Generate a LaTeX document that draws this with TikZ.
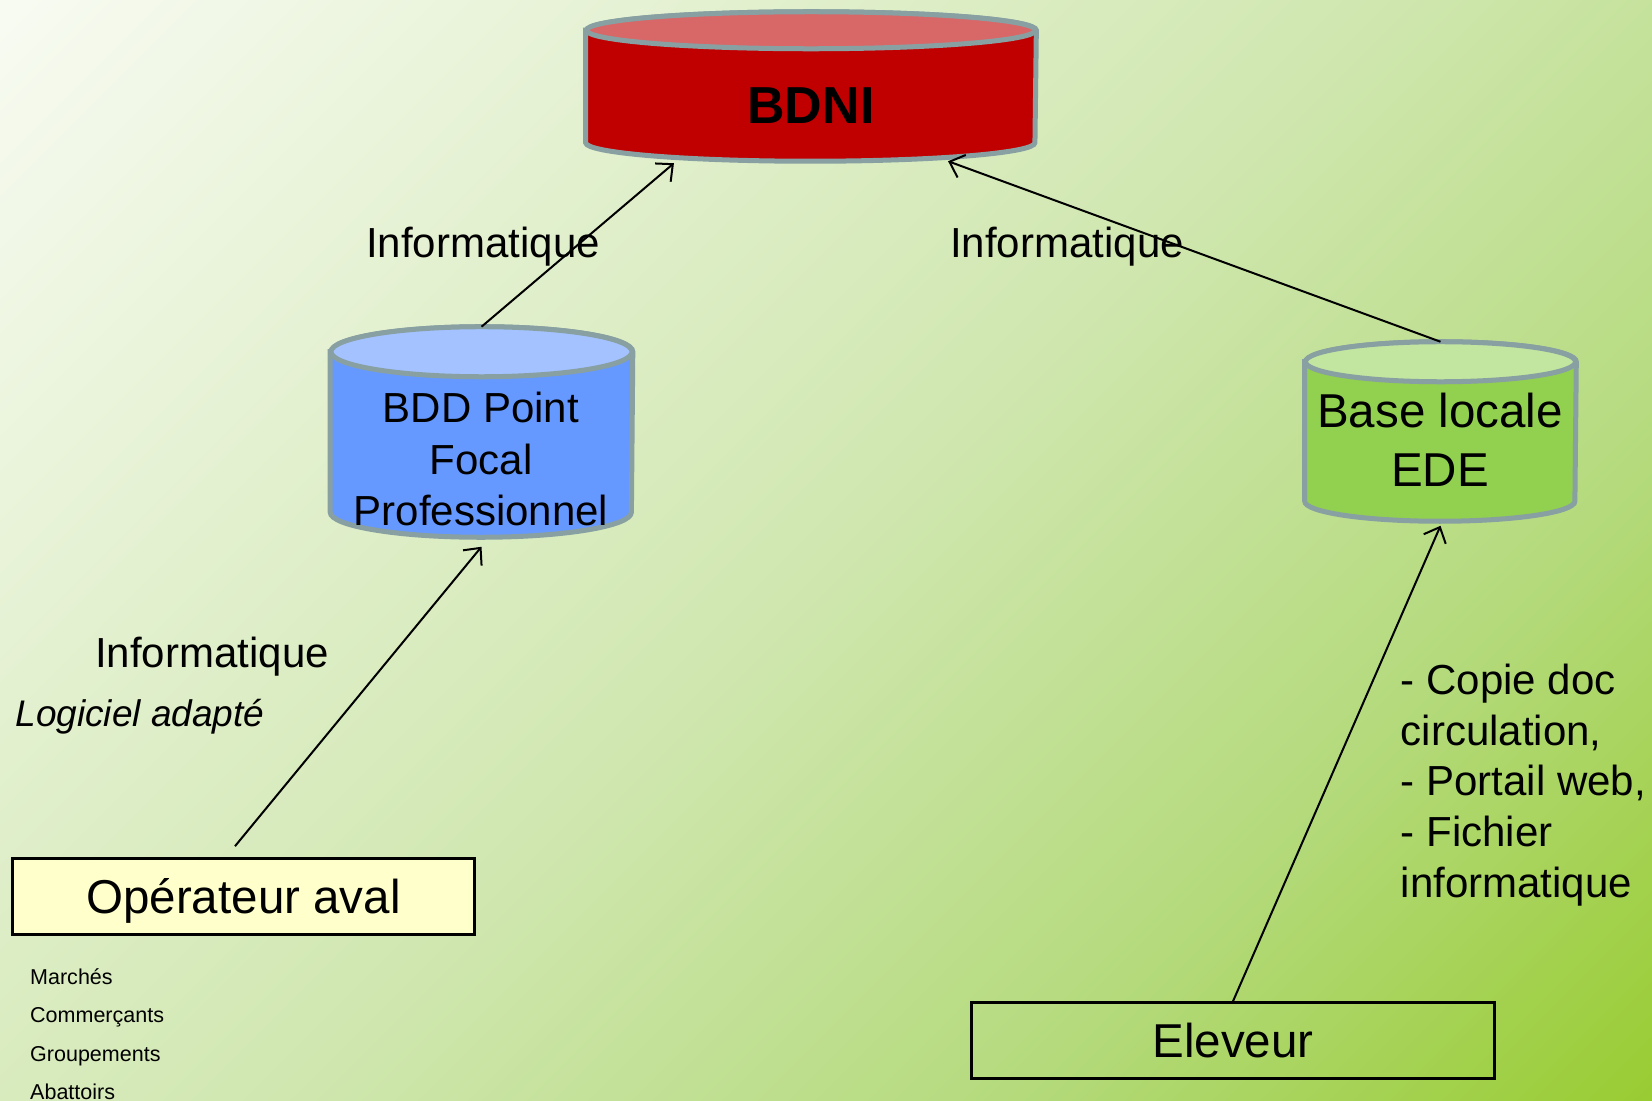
\documentclass[tikz,border=0pt]{standalone}
\usepackage{fontspec}
\setmainfont{Liberation Sans}
\usetikzlibrary{arrows.meta}

\definecolor{bgtop}{RGB}{248,251,242}
\definecolor{bgmid}{RGB}{208,231,176}
\definecolor{bglow}{RGB}{180,218,124}
\definecolor{bgend}{RGB}{153,204,51}
\definecolor{dbline}{RGB}{136,160,162}
\definecolor{redbody}{RGB}{192,0,0}
\definecolor{redtop}{RGB}{216,104,104}
\definecolor{bluebody}{RGB}{102,153,255}
\definecolor{bluetop}{RGB}{163,194,255}
\definecolor{greenbody}{RGB}{146,208,80}
\definecolor{greentop}{RGB}{194,229,160}
\definecolor{opfill}{RGB}{255,255,204}

\pgfdeclarehorizontalshading{slidebg}{100bp}{color(0bp)=(bgtop); color(14.64bp)=(bgtop);
  color(50bp)=(bgmid); color(69bp)=(bglow); color(85.36bp)=(bgend); color(100bp)=(bgend)}

\tikzset{dbborder/.style={draw=dbline,line width=0.05cm}}

% cylindre autour d'un noeud : nom, rayon x, rayon y, corps, dessus
\newcommand\drawdb[5]{%
  \draw[dbborder,fill=#4] ([yshift=-#3]#1.north west) -- ([yshift=#3]#1.south west)
    arc[start angle=180,end angle=360,x radius=#2,y radius=#3]
    -- ([yshift=-#3]#1.north east) arc[start angle=0,end angle=180,x radius=#2,y radius=#3] -- cycle;
  \draw[dbborder,fill=#5] ([yshift=-#3]#1.north) ellipse[x radius=#2,y radius=#3];}

\begin{document}
\begin{tikzpicture}[x=0.01cm,y=-0.01cm,>={Straight Barb[length=0.13cm,width=0.24cm]},
    db/.style={rectangle,inner sep=0pt},
    box/.style={rectangle,draw=black,line width=0.025cm,inner sep=0pt,
      font=\fontsize{0.475cm}{0.57cm}\selectfont,text height=0.34cm,text depth=0pt},
    txt/.style={inner sep=0pt,align=center,font=\fontsize{0.42cm}{0.516cm}\selectfont}]
    \useasboundingbox (0,0) rectangle (1652,1101);
    \shade[shading=slidebg,shading angle=-45] (0,0) rectangle (1652,1101);

    % bases de donnees
    \node[db,minimum width=4.49cm,minimum height=1.48cm] (bdni) at (811,86.5) {};
    \node[db,minimum width=3.01cm,minimum height=2.09cm] (fp) at (481.5,432) {};
    \node[db,minimum width=2.70cm,minimum height=1.78cm] (ede) at (1440.5,431.5) {};
    \drawdb{bdni}{2.245cm}{0.185cm}{redbody}{redtop}
    \drawdb{fp}{1.505cm}{0.25cm}{bluebody}{bluetop}
    \drawdb{ede}{1.35cm}{0.2cm}{greenbody}{greentop}
    \node[txt,font=\fontsize{0.52cm}{0.6cm}\selectfont\bfseries,text height=0.37cm,text depth=0pt]
      (bdnitext) at (811,105) {BDNI};
    \node[txt] (fptext) at (481,459) {BDD Point\\Focal\\Professionnel};
    \node[txt,font=\fontsize{0.475cm}{0.59cm}\selectfont] (edetext) at (1440,440) {Base locale\\EDE};

    % acteurs
    \node[box,fill=opfill,minimum width=4.62cm,minimum height=0.76cm] (oper) at (243.5,896.5) {Op\'erateur aval};
    \node[box,minimum width=5.23cm,minimum height=0.76cm] (elev) at (1233,1040.5) {Eleveur};

    % textes
    \node[txt,anchor=base] (inf1) at (483,258) {Informatique};
    \node[txt,anchor=base] (inf2) at (1067,258) {Informatique};
    \node[txt,anchor=base] (inf3) at (212,668) {Informatique};
    \node[txt,anchor=base,font=\fontsize{0.37cm}{0.45cm}\selectfont\itshape] (logi) at (140,727) {Logiciel adapt\'e};
    \node[txt,anchor=west,align=left,font=\fontsize{0.42cm}{0.507cm}\selectfont] (moyens) at (1400,785)
      {- Copie doc\\circulation,\\- Portail web,\\- Fichier\\informatique};
    \node[txt,anchor=west,align=left,font=\fontsize{0.215cm}{0.385cm}\selectfont] (aval) at (29.5,1034)
      {March\'es\\Commer\c{c}ants\\Groupements\\Abattoirs};

    \path[->,line width=0.02cm]
    (fp.north) edge ([xshift=-1.37cm,yshift=-0.02cm]bdni.south)
    (ede.north) edge ([xshift=1.37cm]bdni.south)
    ([xshift=-0.085cm,yshift=0.11cm]oper.north) edge ([yshift=-0.095cm]fp.south)
    (elev.north) edge ([yshift=-0.045cm]ede.south);
\end{tikzpicture}
\end{document}
